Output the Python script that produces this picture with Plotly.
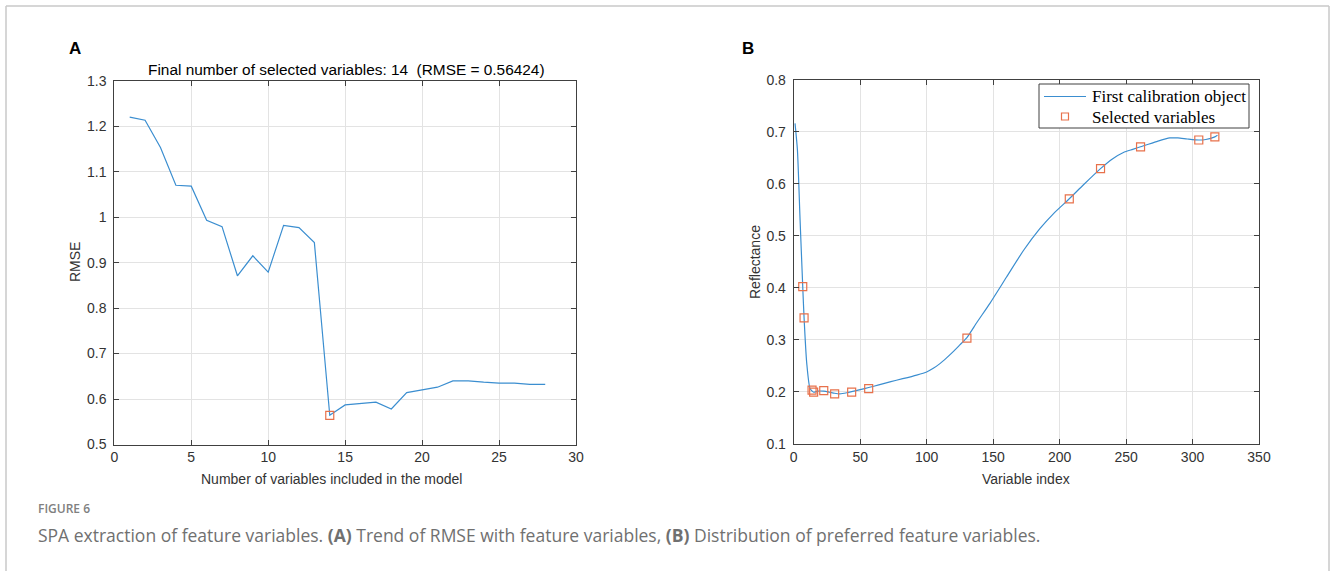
import plotly.graph_objects as go

W, H = 1330, 571

# ---------------- data: panel A ----------------
n_vars = list(range(1, 29))
rmse = [1.220, 1.213, 1.153, 1.070, 1.068, 0.993, 0.979, 0.871, 0.915, 0.879,
        0.982, 0.977, 0.944, 0.56424, 0.587, 0.590, 0.593, 0.578, 0.614, 0.620,
        0.626, 0.640, 0.640, 0.637, 0.635, 0.635, 0.632, 0.632]
best_n = [14]
best_rmse = [0.56424]

# ---------------- data: panel B ----------------
var_index = [1, 2.8, 4.8, 6.8, 7.8, 9.8, 12.3, 15, 18, 22.6, 27, 30.8, 34.8, 40, 43.6,
             50, 56.4, 64, 72.4, 82, 92.5, 100, 105, 110, 115, 120, 125, 130.3, 138,
             147.6, 160, 172.7, 185, 196, 207.3, 218, 230.8, 240, 248,
             255, 260.9, 272.9, 282.9, 289, 296, 304.7, 310, 316.8, 318.8]
reflectance = [0.716, 0.665, 0.530, 0.402, 0.342, 0.255, 0.206, 0.199, 0.201, 0.201,
               0.199, 0.197, 0.196, 0.198, 0.200, 0.204, 0.208, 0.213, 0.219, 0.225,
               0.232, 0.238, 0.245, 0.254, 0.265, 0.277, 0.290, 0.304, 0.334,
               0.370, 0.420, 0.471, 0.513, 0.544, 0.571, 0.598, 0.629, 0.648, 0.660,
               0.666, 0.671, 0.681, 0.688, 0.688, 0.686, 0.684, 0.685, 0.690, 0.693]
sel_index = [6.8, 7.8, 13.8, 15, 22.6, 30.8, 43.6, 56.4, 130.3, 207.3, 230.8, 260.9, 304.7, 316.8]
sel_refl = [0.402, 0.342, 0.203, 0.199, 0.202, 0.196, 0.199, 0.206, 0.303, 0.571, 0.629, 0.671, 0.684, 0.690]
legend_names = ["First calibration object", "Selected variables"]

xticks_a = [0, 5, 10, 15, 20, 25, 30]
yticks_a = [0.5, 0.6, 0.7, 0.8, 0.9, 1.0, 1.1, 1.2, 1.3]
ytext_a = ["0.5", "0.6", "0.7", "0.8", "0.9", "1", "1.1", "1.2", "1.3"]
xticks_b = [0, 50, 100, 150, 200, 250, 300, 350]
yticks_b = [0.1, 0.2, 0.3, 0.4, 0.5, 0.6, 0.7, 0.8]

BLUE = "#3b8ed0"
ORANGE = "#e8714b"
AXC = "#404040"
GRID = "#e3e3e3"
SANS = "Liberation Sans, Arial, sans-serif"
SERIF = "Liberation Serif, Times New Roman, serif"


def px(x):
    return x / W


def py(y):
    return 1 - y / H


fig = go.Figure()
fig.add_trace(go.Scatter(x=n_vars, y=rmse, mode="lines", line=dict(color=BLUE, width=1.2),
                         showlegend=False, xaxis="x", yaxis="y"))
fig.add_trace(go.Scatter(x=best_n, y=best_rmse, mode="markers",
                         marker=dict(symbol="square-open", size=8, color=ORANGE, line=dict(width=1.2)),
                         showlegend=False, xaxis="x", yaxis="y"))
fig.add_trace(go.Scatter(x=var_index, y=reflectance, mode="lines",
                         line=dict(color=BLUE, width=1.2, shape="spline", smoothing=0.6),
                         name=legend_names[0], showlegend=False, xaxis="x2", yaxis="y2"))
fig.add_trace(go.Scatter(x=sel_index, y=sel_refl, mode="markers",
                         marker=dict(symbol="square-open", size=8, color=ORANGE, line=dict(width=1.2)),
                         name=legend_names[1], showlegend=False, xaxis="x2", yaxis="y2"))

axis_common = dict(showline=True, linecolor=AXC, linewidth=1, mirror="ticks", ticks="inside",
                   ticklen=5, tickcolor=AXC, showgrid=True, gridcolor=GRID, gridwidth=1,
                   zeroline=False, tickfont=dict(family=SANS, size=14, color="#333333"))

fig.update_layout(
    autosize=True, margin=dict(l=0, r=0, t=0, b=0, autoexpand=False),
    paper_bgcolor="white", plot_bgcolor="white",
    xaxis=dict(domain=[px(114.3), px(576)], range=[0, 30], tickvals=xticks_a, anchor="y", **axis_common),
    yaxis=dict(domain=[py(444.5), py(80.7)], range=[0.5, 1.3], tickvals=yticks_a, ticktext=ytext_a,
               anchor="x", ticklabelstandoff=4, **axis_common),
    xaxis2=dict(domain=[px(793.7), px(1259)], range=[0, 350], tickvals=xticks_b, anchor="y2", **axis_common),
    yaxis2=dict(domain=[py(443.7), py(79.7)], range=[0.1, 0.8], tickvals=yticks_b, anchor="x2",
                ticklabelstandoff=4, **axis_common),
    showlegend=False,
)

anns = [
    dict(x=px(75), y=py(49), text="<b>A</b>", font=dict(family=SANS, size=17, color="black")),
    dict(x=px(748), y=py(49), text="<b>B</b>", font=dict(family=SANS, size=17, color="black")),
    dict(x=px(346), y=py(69), text="Final number of selected variables: 14&nbsp;&nbsp;(RMSE = 0.56424)",
         font=dict(family=SANS, size=15.4, color="black")),
    dict(x=px(331), y=py(479), text="Number of variables included in the model",
         font=dict(family=SANS, size=14, color="#333333")),
    dict(x=px(1026), y=py(479), text="Variable index",
         font=dict(family=SANS, size=14, color="#333333")),
    dict(x=px(75), y=py(262), text="RMSE", textangle=-90,
         font=dict(family=SANS, size=14, color="#333333")),
    dict(x=px(755), y=py(262), text="Reflectance", textangle=-90,
         font=dict(family=SANS, size=14, color="#333333")),
    dict(x=px(36), y=py(508), text="FIGURE 6", xanchor="left",
         font=dict(family="Open Sans", size=12, color="#808080", weight=600)),
    dict(x=px(36), y=py(535),
         text="SPA extraction of feature variables. <b>(A)</b> Trend of RMSE with feature variables, "
              "<b>(B)</b> Distribution of preferred feature variables.",
         xanchor="left", font=dict(family="Open Sans", size=17.5, color="#707070")),
    # legend labels (panel B)
    dict(x=px(1090), y=py(97), text=legend_names[0], xanchor="left",
         font=dict(family=SERIF, size=17, color="black")),
    dict(x=px(1090), y=py(117), text=legend_names[1], xanchor="left",
         font=dict(family=SERIF, size=17, color="black")),
]
for a in anns:
    a.setdefault("xanchor", "center")
    a.update(xref="paper", yref="paper", showarrow=False, yanchor="middle")
fig.update_layout(annotations=anns)

shapes = [
    # page frame
    dict(type="line", x0=px(6), x1=px(1329), y0=py(6), y1=py(6), line=dict(color="#c8c8c8", width=1.5)),
    dict(type="line", x0=px(6), x1=px(6), y0=py(6), y1=0, line=dict(color="#c8c8c8", width=1.5)),
    dict(type="line", x0=px(1329), x1=px(1329), y0=py(6), y1=0, line=dict(color="#c8c8c8", width=1.5)),
    # legend box and glyphs (panel B)
    dict(type="rect", x0=px(1039), x1=px(1249), y0=py(128), y1=py(84), fillcolor="white",
         line=dict(color="#404040", width=1), layer="above"),
    dict(type="line", x0=px(1044), x1=px(1086), y0=py(96.5), y1=py(96.5),
         line=dict(color=BLUE, width=1.2), layer="above"),
    dict(type="rect", x0=px(1061.5), x1=px(1068.5), y0=py(120), y1=py(113),
         line=dict(color=ORANGE, width=1.2), layer="above"),
]
for s in shapes:
    s.update(xref="paper", yref="paper")
fig.update_layout(shapes=shapes)

fig.write_html("out.html", default_width="100vw", default_height="100vh",
               config={"displayModeBar": False, "responsive": True},
               post_script="document.body.style.margin='0';document.body.style.overflow='hidden';"
                           "Plotly.Plots.resize(document.getElementById('{plot_id}'));")
